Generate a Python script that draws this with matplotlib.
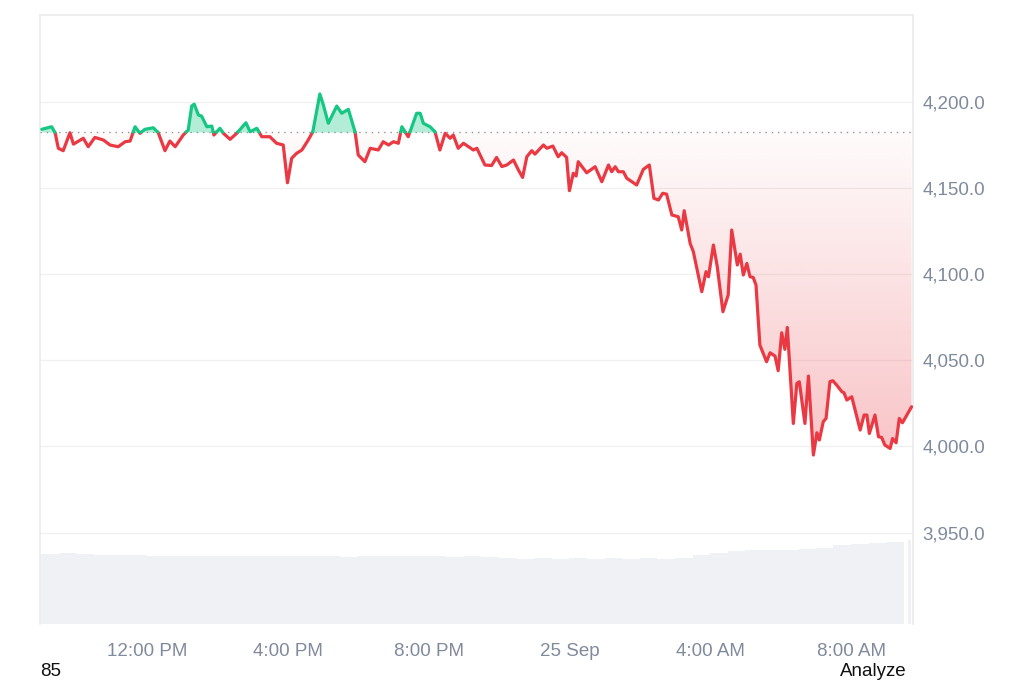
import numpy as np
import matplotlib.pyplot as plt
from matplotlib.patches import PathPatch
from matplotlib.path import Path

plt.rcParams['font.family'] = ['Liberation Sans', 'DejaVu Sans']

# price trace, hours after 9:00 AM (24 Sep)
hours = [0.01, 0.29, 0.39, 0.48, 0.62, 0.81, 0.91, 1.19, 1.33, 1.52, 1.76, 1.95, 2.18, 2.38, 2.52,
         2.66, 2.80, 2.94, 3.18, 3.32, 3.51, 3.65, 3.80, 4.03, 4.17, 4.27, 4.34, 4.46, 4.55, 4.70,
         4.84, 4.90, 5.07, 5.17, 5.36, 5.55, 5.81, 5.93, 6.12, 6.26, 6.49, 6.68, 6.87, 6.99, 7.11,
         7.25, 7.40, 7.58, 7.71, 7.91, 8.01, 8.15, 8.39, 8.53, 8.72, 8.91, 9.00, 9.19, 9.34, 9.57,
         9.71, 9.86, 10.00, 10.14, 10.24, 10.42, 10.66, 10.76, 10.85, 11.04, 11.18, 11.32, 11.47,
         11.61, 11.70, 11.84, 11.99, 12.27, 12.37, 12.60, 12.79, 12.93, 13.08, 13.22, 13.41, 13.55,
         13.67, 13.79, 13.93, 14.02, 14.26, 14.36, 14.53, 14.68, 14.78, 14.92, 15.00, 15.11, 15.19,
         15.25, 15.49, 15.73, 15.92, 16.11, 16.20, 16.30, 16.39, 16.53, 16.63, 16.91, 17.10, 17.27,
         17.40, 17.53, 17.65, 17.76, 17.91, 18.09, 18.19, 18.26, 18.43, 18.52, 18.76, 18.88, 18.95,
         19.09, 19.20, 19.36, 19.51, 19.61, 19.77, 19.85, 19.94, 20.04, 20.13, 20.22, 20.30, 20.41,
         20.60, 20.70, 20.84, 20.93, 21.03, 21.12, 21.19, 21.36, 21.46, 21.53, 21.69, 21.79, 21.93,
         22.03, 22.10, 22.21, 22.29, 22.40, 22.48, 22.59, 22.74, 22.80, 22.88, 23.02, 23.26, 23.37,
         23.45, 23.52, 23.68, 23.78, 23.87, 23.96, 24.11, 24.18, 24.28, 24.37, 24.46, 24.72]

prices = [4183.9, 4185.4, 4181.9, 4172.9, 4171.5, 4181.9, 4175.3, 4178.7, 4173.8, 4179.2, 4177.7,
          4174.8, 4173.8, 4176.7, 4177.1, 4185.4, 4181.6, 4183.9, 4184.8, 4181.9, 4171.5, 4177.1,
          4173.8, 4180.6, 4183.5, 4197.4, 4198.5, 4192.2, 4191.6, 4185.4, 4185.8, 4180.6, 4184.5,
          4181.6, 4178.1, 4181.6, 4187.7, 4182.5, 4184.5, 4179.6, 4179.6, 4175.8, 4174.8, 4152.9,
          4167.1, 4170.0, 4171.9, 4177.7, 4182.5, 4204.4, 4198.0, 4187.4, 4197.4, 4193.2, 4195.5,
          4182.5, 4169.0, 4165.1, 4172.9, 4171.9, 4176.7, 4174.8, 4176.7, 4175.8, 4185.4, 4179.6,
          4193.2, 4193.2, 4187.4, 4185.4, 4182.5, 4171.9, 4181.6, 4178.7, 4180.6, 4172.9, 4175.8,
          4171.9, 4172.9, 4163.2, 4162.9, 4167.6, 4162.3, 4163.2, 4166.1, 4160.3, 4156.0, 4168.0,
          4171.5, 4169.5, 4174.8, 4172.9, 4174.2, 4168.0, 4170.3, 4167.6, 4148.3, 4158.4, 4156.8,
          4165.1, 4158.7, 4162.2, 4153.5, 4163.2, 4159.3, 4162.2, 4159.3, 4159.3, 4155.5, 4151.6,
          4160.7, 4163.2, 4143.9, 4142.9, 4146.8, 4146.3, 4134.2, 4133.2, 4125.5, 4136.7, 4117.7,
          4112.9, 4089.7, 4101.3, 4098.4, 4116.8, 4104.2, 4078.1, 4087.8, 4125.5, 4105.2, 4111.5,
          4099.4, 4106.1, 4098.4, 4098.0, 4093.6, 4058.8, 4049.1, 4054.3, 4052.4, 4043.9, 4065.9,
          4056.3, 4069.0, 4013.3, 4036.5, 4037.5, 4013.3, 4040.8, 3995.0, 4007.9, 4003.7, 4014.3,
          4016.2, 4037.5, 4038.1, 4035.6, 4031.7, 4031.1, 4026.9, 4028.8, 4009.5, 4018.2, 4018.2,
          4007.5, 4018.2, 4005.6, 4005.2, 4000.8, 3998.8, 4004.6, 4002.1, 4016.2, 4013.7, 4023.0]

base_price = 4182.3

# volume bars (30 min each, last one partial)
vol_hours = list(np.arange(0, 24.5, 0.5)) + [24.62]
volumes = [70.5, 71, 70, 69, 69, 69, 68.5, 68, 68, 68, 68.5, 68, 68, 68, 68, 68.5, 68, 67.5, 68, 68,
           68.5, 68, 68, 67.5, 68, 67, 66, 65.5, 66, 65.5, 66, 65.5, 66, 65.5, 66, 65.5, 66.5, 69,
           71.5, 73, 74, 74.5, 74, 75, 76, 79, 80, 81, 82, 84]

tick_hours = [3, 7, 11, 15, 19, 23]
tick_labels = ['12:00 PM', '4:00 PM', '8:00 PM', '25 Sep', '4:00 AM', '8:00 AM']
y_ticks = [3950, 4000, 4050, 4100, 4150, 4200]

GREEN = '#16c784'
RED = '#ea3943'
GREY = '#808a9d'
BORDER = '#ebebeb'

fig = plt.figure(figsize=(10.24, 6.83), dpi=100)
rect = [40 / 1024, 1 - 624 / 683, 873 / 1024, 609 / 683]

axv = fig.add_axes(rect)
axv.bar(vol_hours[:-1], volumes[:-1], width=0.5, align='edge', color='#eff1f4', linewidth=0)
axv.bar(vol_hours[-1:], volumes[-1:], width=0.08, align='edge', color='#eff1f4', linewidth=0)
axv.set_xlim(-0.04, 24.76)
axv.set_ylim(0, 609)
axv.axis('off')

ax = fig.add_axes(rect)
ax.patch.set_alpha(0)

# split the line where it crosses the open price
h = np.array(hours)
p = np.array(prices)
xs, ys = [h[0]], [p[0]]
for i in range(1, len(h)):
    a, b = p[i - 1] - base_price, p[i] - base_price
    if a * b < 0:
        t = a / (a - b)
        xs.append(h[i - 1] + t * (h[i] - h[i - 1]))
        ys.append(base_price)
    xs.append(h[i])
    ys.append(p[i])
xs, ys = np.array(xs), np.array(ys)

up = np.where(ys >= base_price, ys, np.nan)
dn = np.where(ys <= base_price, ys, np.nan)

ax.fill_between(xs, base_price, np.maximum(ys, base_price), color=GREEN, alpha=0.32,
                linewidth=0, zorder=2)

# red gradient under the open price
poly = ax.fill_between(xs, np.minimum(ys, base_price), base_price, facecolor='none',
                       linewidth=0)
clip = PathPatch(Path.make_compound_path(*poly.get_paths()), transform=ax.transData,
                 facecolor='none', edgecolor='none')
ax.add_patch(clip)
ymin = p.min()
grad = np.zeros((256, 1, 4))
grad[..., 0], grad[..., 1], grad[..., 2] = 234 / 255, 57 / 255, 67 / 255
grad[:, 0, 3] = np.linspace(0.30, 0.02, 256)
im = ax.imshow(grad, extent=[xs[0], xs[-1], ymin, base_price], origin='lower',
               aspect='auto', zorder=2, interpolation='bilinear')
im.set_clip_path(clip)

ax.plot(xs, dn, color=RED, lw=2.3, solid_capstyle='round', solid_joinstyle='round', zorder=4)
ax.plot(xs, up, color=GREEN, lw=2.3, solid_capstyle='round', solid_joinstyle='round', zorder=4)
ax.axhline(base_price, color='#8f95a3', lw=1.0, linestyle=(0, (1, 3.5)), zorder=3)

ax.set_xlim(-0.04, 24.76)
ax.set_ylim(3897, 4250.2)
ax.set_yticks(y_ticks)
ax.set_yticklabels([f'{v:,.1f}' for v in y_ticks])
ax.yaxis.tick_right()
ax.set_xticks(tick_hours)
ax.set_xticklabels(tick_labels)
ax.tick_params(axis='both', length=0, colors=GREY, labelsize=13.5)
ax.tick_params(axis='x', pad=14)
ax.tick_params(axis='y', pad=7)
ax.grid(axis='y', color='#f0f0f0', lw=1.0, zorder=0)
ax.set_axisbelow(True)

for side in ['top', 'left', 'right']:
    ax.spines[side].set_color(BORDER)
    ax.spines[side].set_linewidth(1.2)
ax.spines['bottom'].set_visible(False)

fig.text(40 / 1024, 1 - 672 / 683, '85', fontsize=13.5, color='#111111', va='center', ha='left')
fig.text(907 / 1024, 1 - 671 / 683, 'Analyze', fontsize=13.5, color='#111111', va='center',
         ha='right')

fig.savefig('out.png', dpi=100)
